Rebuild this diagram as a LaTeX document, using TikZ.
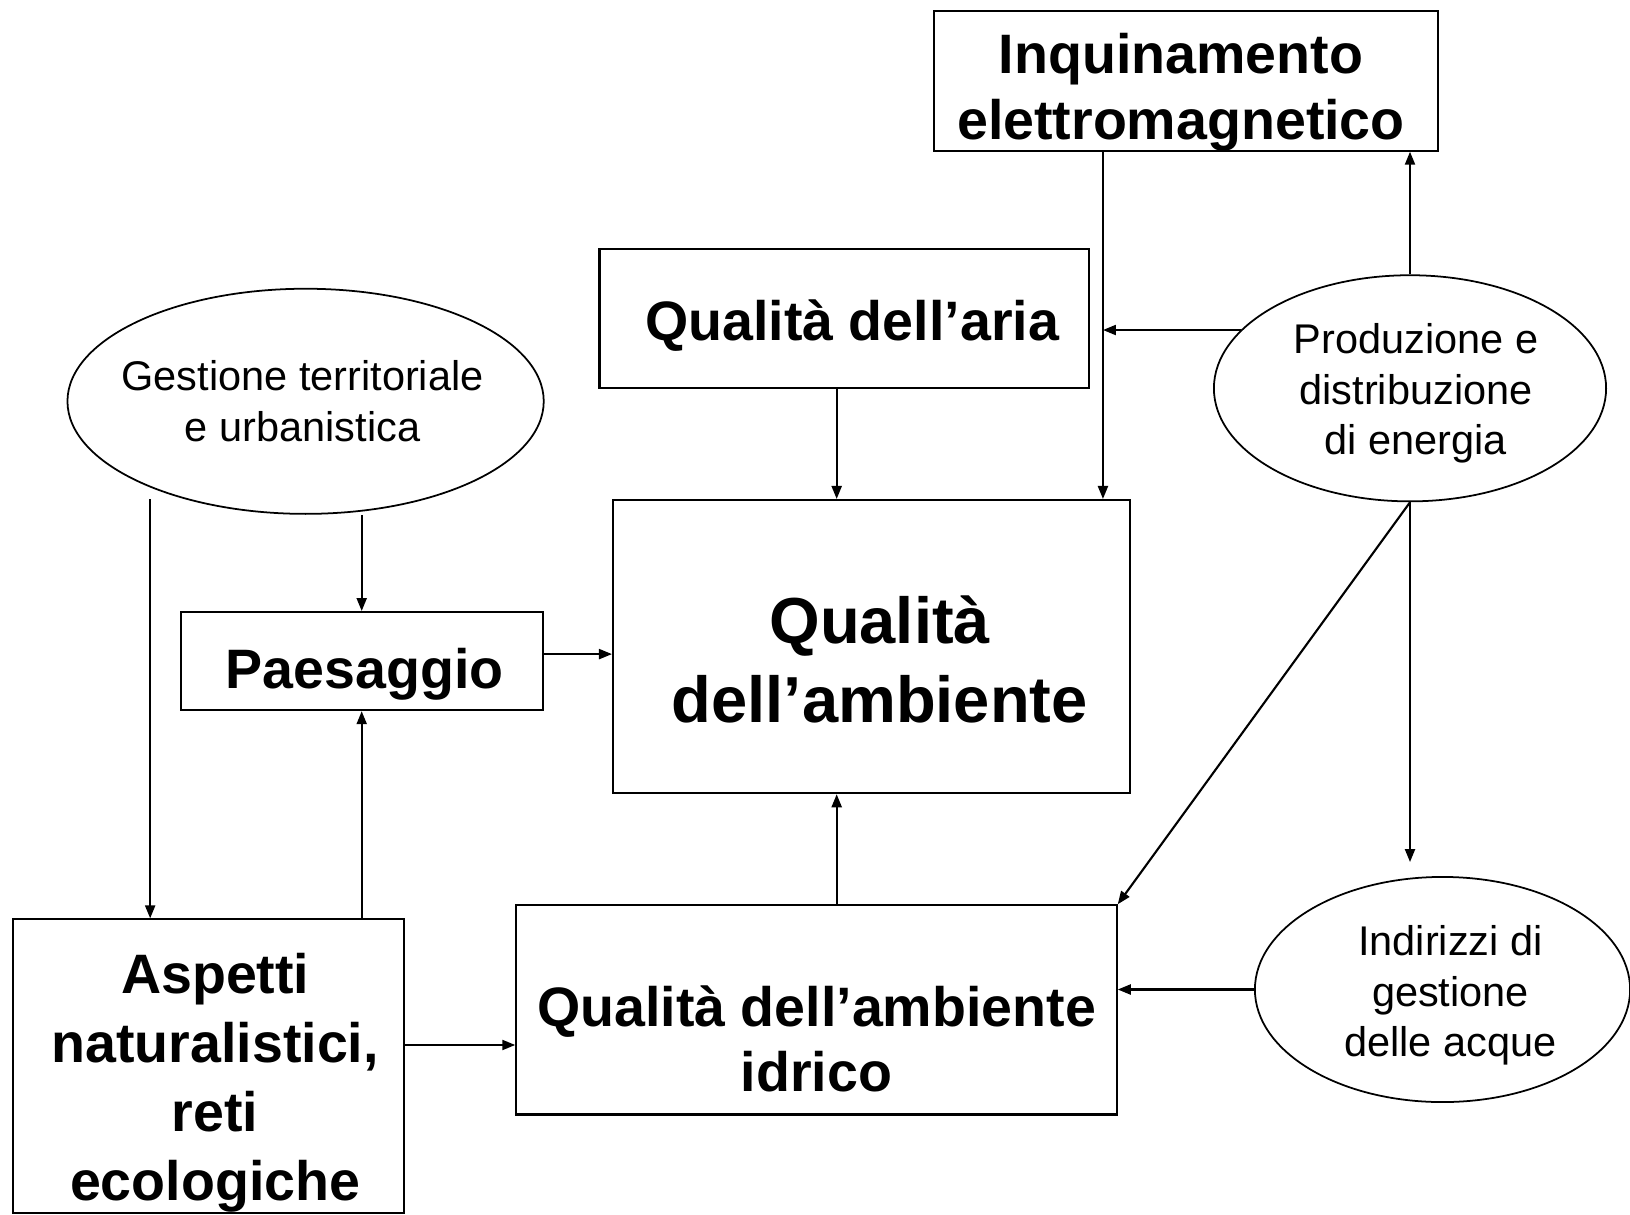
\documentclass[tikz,border=0pt]{standalone}
\usepackage{fontspec}
\setmainfont{Liberation Sans}
\usetikzlibrary{shapes.geometric, arrows.meta}

\begin{document}
\begin{tikzpicture}[x=0.01cm,y=-0.01cm,
        box/.style={draw,rectangle,line width=0.6pt,inner sep=0pt},
        blob/.style={draw,ellipse,line width=0.5pt,inner sep=0pt},
        bold/.style={align=center,font=\fontsize{15.8}{18.7}\selectfont\bfseries},
        plain/.style={align=center,font=\fontsize{11.8}{14.3}\selectfont},
        arr/.style={line width=0.6pt,->,>={Triangle[length=0.13cm,width=0.1cm]}}]
        \useasboundingbox (0,0) rectangle (1630,1215);
        % boxes
        \node[box,minimum width=5.03cm,minimum height=1.40cm] (inq) at (1186,80.6) {};
        \node[bold] (inqtext) at ([xshift=-0.05cm,yshift=-0.12cm]inq.center)
        {Inquinamento\\elettromagnetico};
        \node[box,minimum width=4.89cm,minimum height=1.39cm] (aria) at (844.1,318.1) {};
        \node[bold] (ariatext) at ([xshift=0.08cm,yshift=-0.07cm]aria.center)
        {Qualità dell’aria};
        \node[box,minimum width=5.17cm,minimum height=2.93cm] (amb) at (871.7,646.6) {};
        \node[bold,font=\fontsize{18.5}{22.4}\selectfont\bfseries] (ambtext)
        at ([xshift=0.08cm,yshift=-0.13cm]amb.center) {Qualità\\dell’ambiente};
        \node[box,minimum width=3.62cm,minimum height=0.98cm] (paes) at (361.7,661.1) {};
        \node[bold] (paestext) at ([xshift=0.03cm,yshift=-0.13cm]paes.center) {Paesaggio};
        \node[box,minimum width=3.91cm,minimum height=2.93cm] (asp) at (208.2,1066) {};
        \node[bold,font=\fontsize{15.8}{19.6}\selectfont\bfseries] (asptext)
        at ([xshift=0.07cm,yshift=-0.17cm]asp.center)
        {Aspetti\\naturalistici,\\reti\\ecologiche};
        \node[box,minimum width=6.00cm,minimum height=2.09cm] (idr) at (816.5,1009.9) {};
        \node[bold] (idrtext) at ([yshift=-0.29cm]idr.center) {Qualità dell’ambiente\\idrico};
        % ellipses
        \node[blob,minimum width=4.76cm,minimum height=2.25cm] (gest) at (305.6,401.3) {};
        \node[plain] (gesttext) at ([xshift=-0.03cm]gest.center)
        {Gestione territoriale\\e urbanistica};
        \node[blob,minimum width=3.92cm,minimum height=2.26cm] (prod) at (1410,388.3) {};
        \node[plain] (prodtext) at ([xshift=0.06cm,yshift=-0.05cm]prod.center)
        {Produzione e\\distribuzione\\di energia};
        \node[blob,minimum width=3.75cm,minimum height=2.25cm] (ind) at (1442.5,989.5) {};
        \node[plain] (indtext) at ([xshift=0.08cm,yshift=-0.06cm]ind.center)
        {Indirizzi di\\gestione\\delle acque};
        % arrows
        \coordinate (emx) at ([xshift=-0.83cm]inq.south);
        \coordinate (midx) at ([xshift=-0.35cm]amb.center);
        \draw[arr] (emx) -- (emx |- amb.north);
        \draw[arr] (prod.north) -- (prod.north |- inq.south);
        \draw[arr] (prod.161.9) -- (prod.161.9 -| emx);
        \draw[arr] (aria.south -| midx) -- (amb.north -| midx);
        \draw[arr] (idr.north -| midx) -- (amb.south -| midx);
        \draw[arr,shorten <=0.12cm] (gest.209.4) -- (gest.209.4 |- asp.north);
        \draw[arr] (paes.north |- gest.south) -- (paes.north);
        \draw[arr] (paes.south |- asp.north) -- (paes.south);
        \draw[arr] ([yshift=0.07cm]paes.east) -- ([yshift=0.07cm]paes.east -| amb.west);
        \draw[arr] ([yshift=0.21cm]asp.east) -- ([yshift=0.21cm]asp.east -| idr.west);
        \draw[arr,shorten >=0.14cm] (prod.south) -- (prod.south |- ind.north);
        \draw[arr] (prod.south) -- (idr.north east);
        \draw[arr] (ind.west) -- (ind.west -| idr.east);
    \end{tikzpicture}
\end{document}
